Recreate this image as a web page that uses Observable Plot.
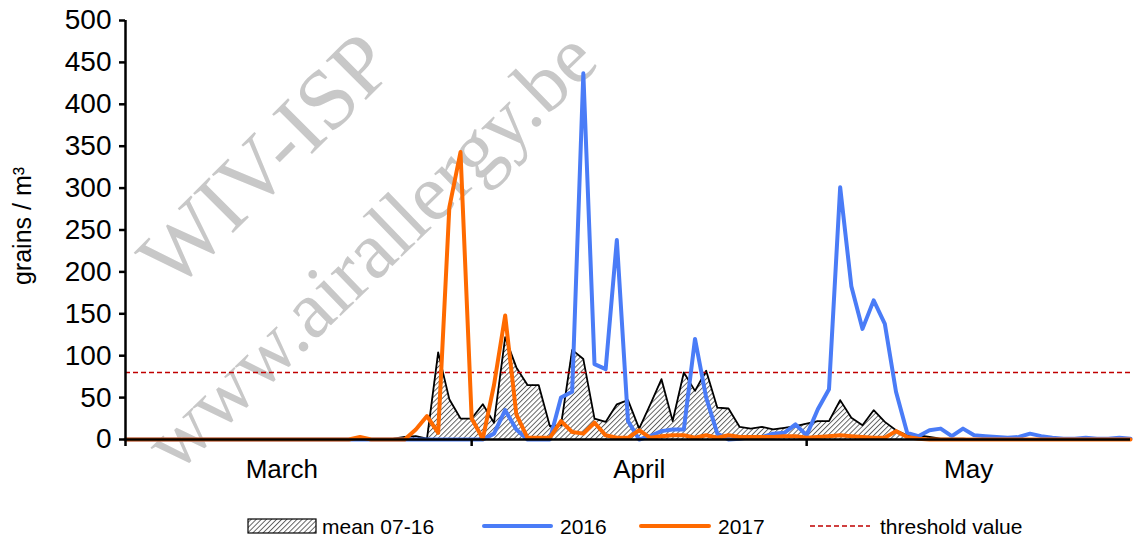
<!DOCTYPE html>
<html><head><meta charset="utf-8">
<script src="https://cdn.jsdelivr.net/npm/d3@7"></script>
<script src="https://cdn.jsdelivr.net/npm/@observablehq/plot@0.6"></script>
<style>
body{margin:0;background:#fff;font-family:"Liberation Sans",Arial,sans-serif;}
#wrap{position:relative;width:1136px;height:542px;overflow:hidden;}
#legend{position:absolute;left:0;top:500px;width:1136px;height:42px;}
</style></head><body>
<div id="wrap"><div id="chart"></div><div id="legend"></div></div>
<script>
// day index 0 = 1 March ... 90 = 30 May
const mean = [
0,0,0,0,0,0,0,0,0,0,
0,0,0,0,0,0,0,0,0,0,
0,0,0,0,1,3,4,1,104,48,
25,25,42,20,122,86,65,65,16,17,
107,96,25,21,42,47,13,42,72,22,
80,58,82,38,37,15,13,15,12,14,
16,19,22,22,47,26,17,35,21,11,
5,5,3,1,1,1,0,0,0,0,
0,0,0,0,0,0,0,0,0,0,0];
const y2016 = [
0,0,0,0,0,0,0,0,0,0,
0,0,0,0,0,0,0,0,0,0,
0,0,0,0,0,0,0,0,0,0,
0,0,0,7,35,12,0,0,0,50,
57,437,90,84,238,22,0,4,10,12,
12,120,50,7,0,1,3,3,7,8,
18,5,36,60,301,183,132,166,138,57,
8,4,11,13,4,13,5,4,3,2,
3,7,4,2,1,1,2,1,1,2,1];
const y2017 = [
0,0,0,0,0,0,0,0,0,0,
0,0,0,0,0,0,0,0,0,0,
0,3,0,0,0,0,12,28,8,277,
343,25,1,65,148,30,2,2,2,22,
9,7,20,5,2,2,11,2,4,5,
5,2,5,2,5,3,3,3,3,4,
4,2,3,4,5,4,3,2,2,10,
3,1,0,0,0,0,0,0,0,0,
0,0,0,0,0,0,0,0,0,0,0];
const threshold = 80;
const monthTicks = [0, 31, 61];
const monthLabels = ["March", "April", "May"];
const monthLabelPos = [14, 46, 75.5];
const yTicks = d3.range(0, 501, 50);
const legendLabels = ["mean 07-16", "2016", "2017", "threshold value"];

const rows = mean.map((m, i) => ({d: i, mean: m, a: y2016[i], b: y2017[i]}));
const font = "Liberation Sans, Arial, sans-serif";

const plot = Plot.plot({
  width: 1136, height: 500,
  marginLeft: 125, marginRight: 6, marginTop: 20, marginBottom: 61,
  x: {domain: [0, 90], axis: null},
  y: {domain: [0, 500], axis: null},
  style: {fontFamily: font, background: "white", overflow: "visible", color: "black"},
  marks: [
    Plot.areaY(rows, {x: "d", y: "mean", fill: "#999"}),
    Plot.lineY(rows, {x: "d", y: "mean", stroke: "black", strokeWidth: 1.8}),
    Plot.ruleY([threshold], {stroke: "#c00000", strokeWidth: 1.6, strokeDasharray: "5,3"}),
    Plot.lineY(rows, {x: "d", y: "a", stroke: "#4a7cf7", strokeWidth: 4}),
    Plot.lineY(rows, {x: "d", y: "b", stroke: "#ff6a00", strokeWidth: 4}),
    Plot.ruleX([0], {stroke: "black", strokeWidth: 2.5}),
    Plot.ruleY([0], {stroke: "black", strokeWidth: 2.5}),
    Plot.axisY({ticks: yTicks, tickSize: 6, tickPadding: 8, fontSize: 28, strokeWidth: 2.5, tickFormat: d => String(d), label: null}),
    Plot.axisX({ticks: monthTicks, tickSize: 7, strokeWidth: 2.5, tickFormat: () => "", label: null}),
    Plot.axisX({ticks: monthLabelPos, tickSize: 0, tickPadding: 20, fontSize: 26, tickFormat: d => monthLabels[monthLabelPos.indexOf(d)], label: null}),
    Plot.text(["grains / m³"], {frameAnchor: "left", textAnchor: "middle", rotate: -90, dx: -103, dy: -4, fontSize: 25})
  ]
});
document.getElementById("chart").appendChild(plot);

const svg = d3.select(plot);
function addHatch(sel, id) {
  const defs = sel.insert("defs", ":first-child");
  const p = defs.append("pattern").attr("id", id).attr("patternUnits", "userSpaceOnUse")
    .attr("width", 3.6).attr("height", 3.6).attr("patternTransform", "rotate(45)");
  p.append("rect").attr("width", 3.6).attr("height", 3.6).attr("fill", "white");
  p.append("line").attr("x1", 0.5).attr("y1", 0).attr("x2", 0.5).attr("y2", 3.6)
    .attr("stroke", "#555").attr("stroke-width", 0.9);
}
addHatch(svg, "hatch");
svg.selectAll('g[aria-label="area"] path').attr("fill", "url(#hatch)");

// watermark (behind marks)
const wm = svg.insert("g", "g").attr("font-family", "Liberation Serif, Times New Roman, serif")
  .attr("fill", "#c8c8c8").attr("text-anchor", "middle").attr("dominant-baseline", "central");
wm.append("text").attr("transform", "translate(265,160) rotate(-45)").attr("font-size", 86).text("WIV-ISP");
wm.append("text").attr("transform", "translate(370,250) rotate(-44)").attr("font-size", 81).text("www.airallergy.be");

// legend
const lg = d3.select("#legend").append("svg").attr("width", 1136).attr("height", 42)
  .attr("font-family", font).attr("font-size", 21);
addHatch(lg, "hatch2");
const cy = 26;
lg.append("rect").attr("x", 248).attr("y", cy - 7).attr("width", 68).attr("height", 14)
  .attr("fill", "url(#hatch2)").attr("stroke", "black").attr("stroke-width", 1.2);
lg.append("text").attr("x", 322).attr("y", cy).attr("dominant-baseline", "central").text(legendLabels[0]);
lg.append("line").attr("x1", 484).attr("x2", 551).attr("y1", cy).attr("y2", cy)
  .attr("stroke", "#4a7cf7").attr("stroke-width", 4).attr("stroke-linecap", "round");
lg.append("text").attr("x", 560).attr("y", cy).attr("dominant-baseline", "central").text(legendLabels[1]);
lg.append("line").attr("x1", 641).attr("x2", 709).attr("y1", cy).attr("y2", cy)
  .attr("stroke", "#ff6a00").attr("stroke-width", 4).attr("stroke-linecap", "round");
lg.append("text").attr("x", 718).attr("y", cy).attr("dominant-baseline", "central").text(legendLabels[2]);
lg.append("line").attr("x1", 810).attr("x2", 870).attr("y1", cy).attr("y2", cy)
  .attr("stroke", "#c00000").attr("stroke-width", 1.6).attr("stroke-dasharray", "5,3");
lg.append("text").attr("x", 880).attr("y", cy).attr("dominant-baseline", "central").text(legendLabels[3]);
</script></body></html>
